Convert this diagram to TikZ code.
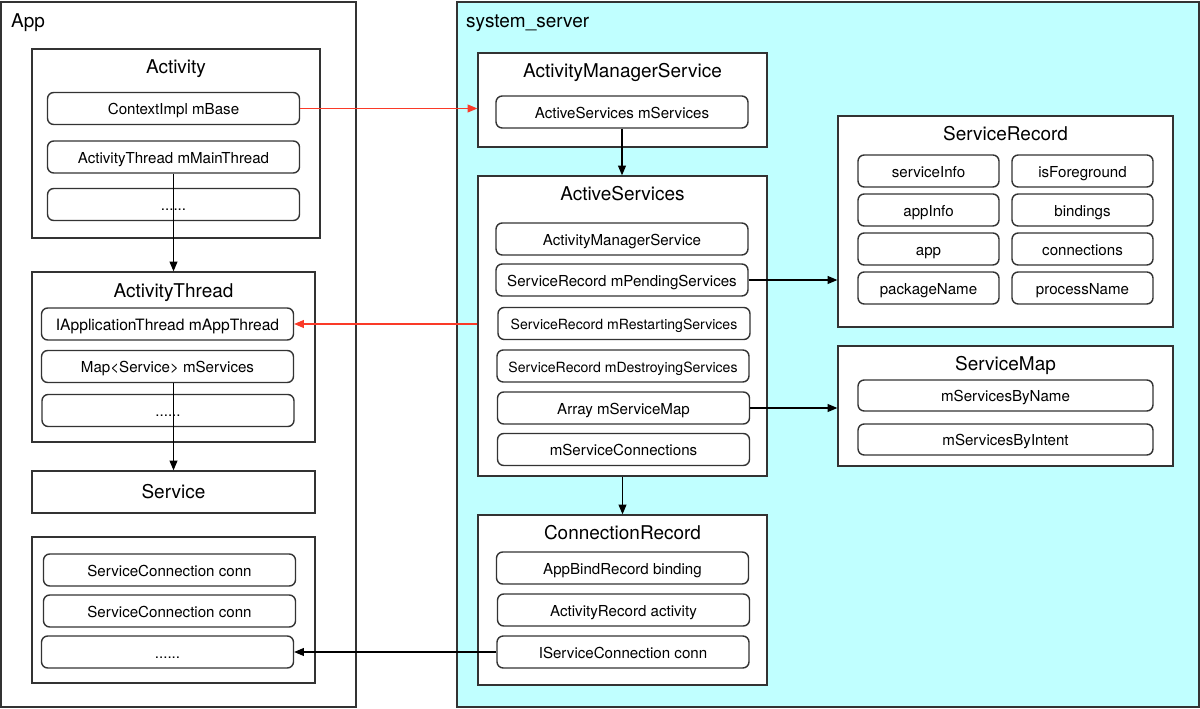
\documentclass[tikz,border=0pt]{standalone}
\usepackage{fontspec}
\setmainfont{TeX Gyre Heros}
\usetikzlibrary{arrows.meta}
\definecolor{sysbg}{RGB}{192,255,255}
\definecolor{linkred}{RGB}{250,58,40}

\begin{document}
\begin{tikzpicture}[x=0.02cm, y=-0.02cm,
  box/.style={draw=black!80, line width=0.8pt, fill=white, inner sep=0pt},
  item/.style={draw=black!80, line width=0.8pt, rounded corners=3.5pt, fill=white,
    inner sep=0pt, minimum width=5.04cm, minimum height=0.64cm,
    text height=0.72em, text depth=0pt,
    font=\fontsize{8.6}{10}\selectfont},
  smallitem/.style={item, font=\fontsize{8}{10}\selectfont},
  field/.style={item, minimum width=2.82cm},
  title/.style={font=\fontsize{10.8}{13}\selectfont, text height=0.72em, text depth=0pt},
  arrow/.style={line width=0.6pt, -{Triangle[length=5.5pt,width=4.5pt]}},
  redarrow/.style={arrow, draw=linkred, fill=linkred}]
\useasboundingbox (0,0) rectangle (1200,709);

% processes
\node[box, minimum width=7.1cm, minimum height=14.1cm] (app) at (178.5,354.5) {};
\node[box, fill=sysbg, minimum width=14.84cm, minimum height=14.1cm] (sys) at (828,354.5) {};
\node[title, anchor=west] (appT) at (5,21) {App};
\node[title, anchor=west] (sysT) at (460,21) {system\_server};

% App side
\node[box, minimum width=5.76cm, minimum height=3.78cm] (activity) at (176,143.5) {};
\node[title] (activityT) at (176,67) {Activity};
\node[box, minimum width=5.66cm, minimum height=3.4cm] (athread) at (173.5,357) {};
\node[title] (athreadT) at (173.5,291) {ActivityThread};
\node[box, title, minimum width=5.66cm, minimum height=0.84cm] (service) at (173.5,492) {Service};
\node[box, minimum width=5.66cm, minimum height=2.92cm] (conns) at (173.5,610) {};

\begin{scope}[every node/.style={item}]
\node (ctx) at (173.5,108.5) {ContextImpl mBase};
\node (mainthr) at (173.5,157) {ActivityThread mMainThread};
\node (dotsA) at (173.5,204.5) {......};
\node[font=\fontsize{8.9}{10}\selectfont] (appthr) at (167.5,324) {IApplicationThread mAppThread};
\node (msvcs) at (167.5,366.5) {Map<Service> mServices};
\node (dotsB) at (168,410.5) {......};
\node (conn1) at (169.5,570) {ServiceConnection conn};
\node (conn2) at (169.5,611) {ServiceConnection conn};
\node (dotsC) at (167.5,652) {......};
\end{scope}

% system_server side
\node[box, minimum width=5.78cm, minimum height=1.88cm] (ams) at (622.5,100) {};
\node[title] (amsT) at (622.5,71) {ActivityManagerService};
\node[box, minimum width=5.78cm, minimum height=6cm] (actsvc) at (622.5,326) {};
\node[title] (actsvcT) at (622.5,194) {ActiveServices};
\node[box, minimum width=5.78cm, minimum height=3.4cm] (connrec) at (622.5,600) {};
\node[title] (connrecT) at (622.5,533) {ConnectionRecord};
\node[box, minimum width=6.7cm, minimum height=4.22cm] (srec) at (1005.5,221.5) {};
\node[title] (srecT) at (1005.5,134) {ServiceRecord};
\node[box, minimum width=6.7cm, minimum height=2.4cm] (smap) at (1005.5,406) {};
\node[title] (smapT) at (1005.5,364) {ServiceMap};

\begin{scope}[every node/.style={item}]
\node (amsitem) at (622,112) {ActiveServices mServices};
\node (asams) at (622,239) {ActivityManagerService};
\node (pending) at (622,280) {ServiceRecord mPendingServices};
\node[smallitem] (restart) at (624,323.5) {ServiceRecord mRestartingServices};
\node[smallitem] (destroy) at (623,366) {ServiceRecord mDestroyingServices};
\node (svcmap) at (623.5,408) {Array mServiceMap};
\node (svcconn) at (623.5,449.5) {mServiceConnections};
\node (binding) at (622.5,568) {AppBindRecord binding};
\node (actrec) at (623.5,610) {ActivityRecord activity};
\node (iconn) at (623,652) {IServiceConnection conn};
\node[minimum width=5.9cm, minimum height=0.62cm] (byname) at (1005.5,395.5) {mServicesByName};
\node[minimum width=5.9cm, minimum height=0.62cm] (byintent) at (1005.5,439.5) {mServicesByIntent};
\end{scope}

\begin{scope}[every node/.style={field}]
\node (sinfo) at (928.5,171) {serviceInfo};
\node (fgnd) at (1082.5,171) {isForeground};
\node (ainfo) at (928.5,210) {appInfo};
\node (binds) at (1082.5,210) {bindings};
\node (sapp) at (928.5,249) {app};
\node (sconns) at (1082.5,249) {connections};
\node (pkg) at (928.5,288) {packageName};
\node (proc) at (1082.5,288) {processName};
\end{scope}

% links
\draw [redarrow] (ctx.east) -- (ctx.east -| ams.west);
\draw [arrow] (mainthr.south) -- (athread.north);
\draw [redarrow] (actsvc.west |- appthr) -- (appthr.east);
\draw [arrow] (service.north |- msvcs.south) -- (service.north);
\draw [arrow] (amsitem.south) -- (amsitem.south |- actsvc.north);
\draw [arrow] (pending.east) -- (pending.east -| srec.west);
\draw [arrow] (svcmap.east) -- (svcmap.east -| smap.west);
\draw [arrow] (actsvc.south) -- (connrec.north);
\draw [arrow] (iconn.west) -- (iconn.west -| dotsC.east);
\end{tikzpicture}
\end{document}
